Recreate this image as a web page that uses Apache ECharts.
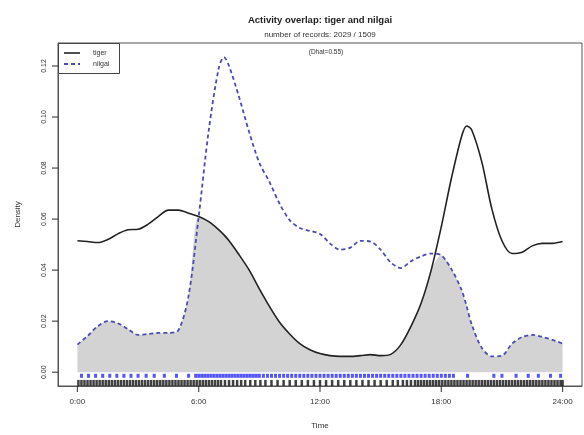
<!DOCTYPE html>
<html>
<head>
<meta charset="utf-8">
<script src="https://cdn.jsdelivr.net/npm/echarts@6/dist/echarts.min.js"></script>
<style>html,body{margin:0;padding:0;background:#fff}#c{width:584px;height:435px}</style>
</head>
<body>
<div id="c"></div>
<script>
// time grid (hours)
var timeHours = [0,0.5,1,1.5,2,2.5,3,3.5,4,4.5,5,5.5,6,6.5,7,7.25,7.5,8,8.5,9,9.5,10,10.5,11,11.5,12,12.5,13,13.5,14,14.5,15,15.5,16,16.5,17,17.5,18,18.5,19,19.25,19.5,20,20.5,21,21.5,22,22.5,23,23.5,24];
// tiger density (solid)
var tigerDensity = [0.0515,0.0512,0.0508,0.0520,0.0542,0.0558,0.0560,0.0580,0.0610,0.0635,0.0635,0.0623,0.0610,0.0590,0.0558,0.0538,0.0515,0.0460,0.0400,0.0327,0.0258,0.0196,0.0150,0.0112,0.0088,0.0073,0.0065,0.0062,0.0062,0.0065,0.0069,0.0065,0.0070,0.0108,0.0180,0.0270,0.0400,0.0570,0.0760,0.0923,0.0965,0.0950,0.0825,0.0640,0.0515,0.0465,0.0470,0.0495,0.0505,0.0505,0.0512];
// nilgai density (dashed)
var nilgaiDensity = [0.0108,0.0142,0.0180,0.0200,0.0192,0.0169,0.0146,0.0150,0.0154,0.0154,0.0165,0.0300,0.0610,0.0950,0.1195,0.1235,0.1200,0.1077,0.0940,0.0820,0.0746,0.0660,0.0596,0.0565,0.0554,0.0542,0.0504,0.0480,0.0488,0.0515,0.0512,0.0480,0.0430,0.0408,0.0435,0.0454,0.0465,0.0458,0.0404,0.0323,0.0260,0.0188,0.0096,0.0062,0.0065,0.0112,0.0138,0.0146,0.0138,0.0127,0.0112];
// observation times (rug)
var tigerRug = [0.05,0.2,0.35,0.5,0.65,0.8,0.95,1.1,1.25,1.4,1.55,1.7,1.85,2.0,2.15,2.3,2.45,2.6,2.75,2.9,3.05,3.2,3.35,3.5,3.65,3.8,3.95,4.1,4.25,4.4,4.55,4.7,4.85,5.0,5.15,5.3,5.45,5.6,5.75,5.9,6.05,6.2,6.35,6.5,6.65,6.8,6.95,7.1,7.3,7.5,7.7,7.9,8.1,8.3,8.55,8.8,9.05,9.3,9.6,9.9,10.2,10.5,10.8,11.1,11.4,11.7,12.0,12.3,12.6,12.9,13.2,13.5,13.8,14.1,14.4,14.7,15.0,15.3,15.6,15.85,16.1,16.3,16.5,16.7,16.85,17.0,17.15,17.3,17.45,17.6,17.75,17.9,18.05,18.2,18.35,18.5,18.65,18.8,18.95,19.1,19.25,19.4,19.55,19.7,19.85,20.0,20.15,20.3,20.45,20.6,20.75,20.9,21.05,21.2,21.35,21.5,21.65,21.8,21.95,22.1,22.25,22.4,22.55,22.7,22.85,23.0,23.15,23.3,23.45,23.6,23.75,23.9,24.0];
var nilgaiRug = [0.2,0.55,0.9,1.25,1.6,1.95,2.3,2.65,3.0,3.4,3.8,4.3,4.9,5.5,5.85,6.0,6.15,6.3,6.45,6.6,6.75,6.9,7.05,7.2,7.35,7.5,7.65,7.8,7.95,8.1,8.25,8.4,8.55,8.7,8.85,9.0,9.2,9.4,9.6,9.8,10.0,10.2,10.4,10.6,10.8,11.0,11.2,11.4,11.6,11.8,12.0,12.2,12.4,12.6,12.8,13.0,13.2,13.4,13.6,13.8,14.0,14.2,14.4,14.6,14.8,15.0,15.2,15.4,15.6,15.8,16.0,16.2,16.4,16.6,16.8,17.0,17.2,17.4,17.6,17.8,18.0,18.2,18.4,18.6,19.3,20.6,21.0,21.7,22.3,22.8,23.4,23.9];
// tick labels
var xTickValues = [0,6,12,18,24];
var xTickLabels = ['0:00','6:00','12:00','18:00','24:00'];
var yTickValues = [0,0.02,0.04,0.06,0.08,0.10,0.12];
var yTickLabels = ['0.00','0.02','0.04','0.06','0.08','0.10','0.12'];
var legendNames = ['tiger','nilgai'];

var X_MIN = -0.96, X_MAX = 24.96, Y_MIN = -0.0054, Y_MAX = 0.129;
var chart = echarts.init(document.getElementById('c'), null, {renderer:'canvas'});
var tigerData = timeHours.map(function(t,i){return [t, tigerDensity[i]];});
var nilgaiData = timeHours.map(function(t,i){return [t, nilgaiDensity[i]];});
var overlapData = timeHours.map(function(t,i){return [t, Math.min(tigerDensity[i], nilgaiDensity[i])];});
var FONT = 'Liberation Sans, Arial, sans-serif';
var textCol = '#333';
var tigerCol = '#222';
var nilgaiCol = '#4b4bb8';
var tickCol = '#222';

chart.setOption({
  animation:false,
  backgroundColor:'#fff',
  grid:{left:58,right:2,top:43,bottom:44,show:true,borderColor:'#555',borderWidth:1,containLabel:false},
  xAxis:{
    type:'value', min:X_MIN, max:X_MAX,
    name:'Time', nameLocation:'middle', nameGap:36,
    nameTextStyle:{fontFamily:FONT,fontSize:8,color:textCol},
    axisLine:{show:true,onZero:false,lineStyle:{color:'#555'}},
    splitLine:{show:false},
    axisTick:{show:false},
    axisLabel:{fontFamily:FONT,fontSize:8,color:textCol,margin:12,customValues:xTickValues,
      formatter:function(v){var i=xTickValues.indexOf(v);return i>=0?xTickLabels[i]:'';}}
  },
  yAxis:{
    type:'value', min:Y_MIN, max:Y_MAX,
    name:'Density', nameLocation:'middle', nameGap:36, nameRotate:90,
    nameTextStyle:{fontFamily:FONT,fontSize:8,color:textCol},
    axisLine:{show:true,onZero:false,lineStyle:{color:'#555'}},
    splitLine:{show:false},
    axisTick:{show:false},
    axisLabel:{fontFamily:FONT,fontSize:7,color:textCol,margin:10,rotate:90,customValues:yTickValues,
      formatter:function(v){for(var i=0;i<yTickValues.length;i++){if(Math.abs(yTickValues[i]-v)<1e-9)return yTickLabels[i];}return '';}}
  },
  graphic:[
    {type:'text',style:{x:320,y:20,text:'Activity overlap: tiger and nilgai',fontFamily:FONT,fontSize:9.5,fontWeight:'bold',fill:'#222',align:'center',verticalAlign:'middle'}},
    {type:'text',style:{x:320,y:35,text:'number of records: 2029 / 1509',fontFamily:FONT,fontSize:8,fill:textCol,align:'center',verticalAlign:'middle'}},
    {type:'text',style:{x:326,y:52,text:'(Dhat=0.55)',fontFamily:FONT,fontSize:6.5,fill:textCol,align:'center',verticalAlign:'middle'}},
    {type:'rect',shape:{x:58.5,y:43.5,width:61,height:30},style:{fill:'#fff',stroke:'#444',lineWidth:1},z:10},
    {type:'line',shape:{x1:64,y1:53,x2:80,y2:53},style:{stroke:tigerCol,lineWidth:1.6},z:11},
    {type:'line',shape:{x1:64,y1:64,x2:80,y2:64},style:{stroke:nilgaiCol,lineWidth:1.8,lineDash:[4,3]},z:11},
    {type:'text',style:{x:93,y:53,text:legendNames[0],fontFamily:FONT,fontSize:7,fill:textCol,verticalAlign:'middle'},z:11},
    {type:'text',style:{x:93,y:64,text:legendNames[1],fontFamily:FONT,fontSize:7,fill:textCol,verticalAlign:'middle'},z:11}
  ],
  series:[
    {name:'overlap',type:'line',data:overlapData,smooth:0.3,showSymbol:false,symbol:'none',
      lineStyle:{width:0},areaStyle:{color:'#d3d3d3',opacity:1},z:1,silent:true},
    {name:legendNames[0],type:'line',data:tigerData,smooth:0.3,symbol:'none',
      lineStyle:{color:tigerCol,width:1.6,type:'solid'},z:3},
    {name:legendNames[1],type:'line',data:nilgaiData,smooth:0.3,symbol:'none',
      lineStyle:{color:nilgaiCol,width:1.8,type:[4,3]},z:3},
    {name:'tigerRug',type:'scatter',data:tigerRug.map(function(t){return [t,-0.0042];}),
      symbol:'rect',symbolSize:[2.5,6],itemStyle:{color:'#111'},z:4,silent:true},
    {name:'nilgaiRug',type:'scatter',data:nilgaiRug.map(function(t){return [t,-0.0014];}),
      symbol:'rect',symbolSize:[3,4],itemStyle:{color:'#2a2aff'},z:4,silent:true},
    {name:'yTicks',type:'scatter',silent:true,z:5,clip:false,
      data:yTickValues.map(function(v){return [X_MIN, v];}),
      symbol:'rect',symbolSize:[6,1.2],symbolOffset:[-3,0],itemStyle:{color:tickCol}},
    {name:'xTicks',type:'scatter',silent:true,z:5,clip:false,
      data:xTickValues.map(function(v){return [v, Y_MIN];}),
      symbol:'rect',symbolSize:[1.2,6],symbolOffset:[0,3],itemStyle:{color:tickCol}}
  ]
});
</script>
</body>
</html>
